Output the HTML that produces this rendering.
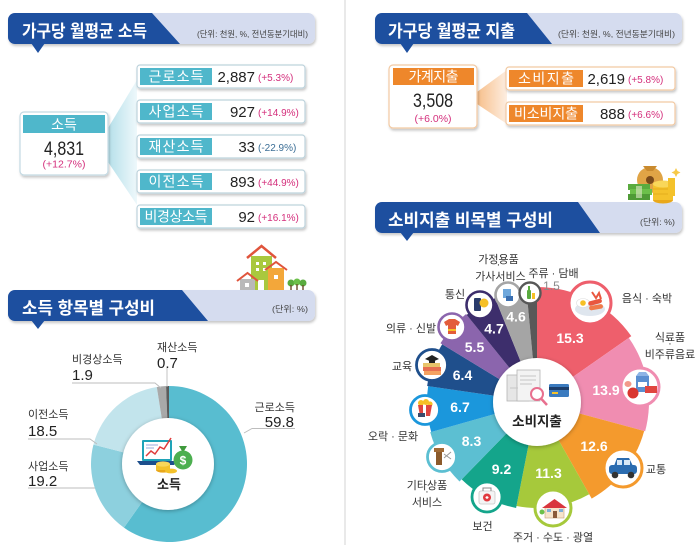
<!DOCTYPE html>
<html><head><meta charset="utf-8"><style>
html,body{margin:0;padding:0;background:#fff;}
svg{display:block;}
text{font-family:"Liberation Sans","Noto Sans CJK KR",sans-serif;}
.t{font-weight:bold;fill:#fff;font-size:17px;}
.sub{font-size:8.5px;fill:#444;}
.lb{font-size:14px;fill:#fff;text-anchor:middle;}
.val{font-size:15px;fill:#222;text-anchor:end;}
.chg{font-size:10px;fill:#d42f7c;}
.dl{font-size:11px;fill:#333;}
.dv{font-size:15px;fill:#222;}
.pn{font-size:14px;fill:#fff;font-weight:bold;text-anchor:middle;}
.pl{font-size:11px;fill:#333;text-anchor:middle;}
</style></head><body>
<svg width="700" height="556" viewBox="0 0 700 556" xmlns="http://www.w3.org/2000/svg">
<defs>
<filter id="sh" x="-10%" y="-20%" width="130%" height="160%"><feDropShadow dx="1" dy="2" stdDeviation="1.3" flood-color="#000" flood-opacity="0.22"/></filter>
<filter id="sh2" x="-30%" y="-30%" width="160%" height="160%"><feDropShadow dx="0" dy="1" stdDeviation="2.2" flood-color="#000" flood-opacity="0.3"/></filter>
<linearGradient id="fanB" x1="0" x2="1" y1="0" y2="0"><stop offset="0" stop-color="#b6e0ea"/><stop offset="1" stop-color="#eef8fb"/></linearGradient>
<linearGradient id="fanO" x1="0" x2="1" y1="0" y2="0"><stop offset="0" stop-color="#f7bf8b"/><stop offset="1" stop-color="#fdeee1"/></linearGradient>
</defs>
<rect width="700" height="556" fill="#fff"/>
<line x1="345" y1="0" x2="345" y2="545" stroke="#e2e2e2" stroke-width="1.5"/>

<!-- Header 1 -->
<rect x="8" y="13" width="307" height="31" rx="7" fill="#d5dcef" filter="url(#sh)"/>
<path d="M15,13 H152 L180,44 H15 A7,7 0 0 1 8,37 V20 A7,7 0 0 1 15,13 Z" fill="#1d4f9f"/>
<path d="M31,43 L45,43 L38,53 Z" fill="#1d4f9f"/>
<text class="t" x="22" y="37" textLength="125" lengthAdjust="spacingAndGlyphs">가구당 월평균 소득</text>
<text class="sub" x="197" y="37" textLength="111" lengthAdjust="spacingAndGlyphs">(단위: 천원, %, 전년동분기대비)</text>

<!-- Header 2 -->
<rect x="375" y="13" width="307" height="31" rx="7" fill="#d5dcef" filter="url(#sh)"/>
<path d="M382,13 H527 L552,44 H382 A7,7 0 0 1 375,37 V20 A7,7 0 0 1 382,13 Z" fill="#1d4f9f"/>
<path d="M400,43 L414,43 L407,53 Z" fill="#1d4f9f"/>
<text class="t" x="388" y="37" textLength="127" lengthAdjust="spacingAndGlyphs">가구당 월평균 지출</text>
<text class="sub" x="558" y="37" textLength="117" lengthAdjust="spacingAndGlyphs">(단위: 천원, %, 전년동분기대비)</text>

<!-- Header 3 -->
<rect x="375" y="202" width="307" height="31" rx="7" fill="#d5dcef" filter="url(#sh)"/>
<path d="M382,202 H578 L600,233 H382 A7,7 0 0 1 375,226 V209 A7,7 0 0 1 382,202 Z" fill="#1d4f9f"/>
<path d="M400,232 L414,232 L407,241 Z" fill="#1d4f9f"/>
<text class="t" x="388" y="226" textLength="165" lengthAdjust="spacingAndGlyphs">소비지출 비목별 구성비</text>
<text class="sub" x="640" y="225" textLength="35" lengthAdjust="spacingAndGlyphs">(단위: %)</text>

<!-- Header 4 -->
<rect x="8" y="290" width="307" height="31" rx="7" fill="#d5dcef" filter="url(#sh)"/>
<path d="M15,290 H182 L208,321 H15 A7,7 0 0 1 8,314 V297 A7,7 0 0 1 15,290 Z" fill="#1d4f9f"/>
<path d="M31,320 L45,320 L38,329 Z" fill="#1d4f9f"/>
<text class="t" x="22" y="314" textLength="133" lengthAdjust="spacingAndGlyphs">소득 항목별 구성비</text>
<text class="sub" x="272" y="312" textLength="36" lengthAdjust="spacingAndGlyphs">(단위: %)</text>

<!-- Income section -->
<polygon points="108,128 137,80 137,205 108,162" fill="url(#fanB)"/>
<rect x="20" y="112" width="88" height="63" rx="4" fill="#fff" stroke="#c3d9e2" stroke-width="1.2" filter="url(#sh)"/>
<rect x="23" y="115" width="82" height="18" fill="#4fb7cb"/>
<text class="lb" x="64" y="129.5">소득</text>
<text x="64" y="155" font-size="19" fill="#222" text-anchor="middle" textLength="40" lengthAdjust="spacingAndGlyphs">4,831</text>
<text x="64" y="167.5" font-size="10.5" fill="#d42f7c" text-anchor="middle">(+12.7%)</text>

<g>
<rect x="137" y="65" width="168" height="23" rx="3" fill="#fff" stroke="#bdd3dc" stroke-width="1.2" filter="url(#sh)"/>
<rect x="140" y="68" width="72" height="17" fill="#4fb7cb"/>
<text class="lb" x="176" y="81.5" textLength="55">근로소득</text>
<text class="val" x="255" y="82">2,887</text><text class="chg" x="258" y="81">(+5.3%)</text>

<rect x="137" y="100" width="168" height="23" rx="3" fill="#fff" stroke="#bdd3dc" stroke-width="1.2" filter="url(#sh)"/>
<rect x="140" y="103" width="72" height="17" fill="#4fb7cb"/>
<text class="lb" x="176" y="116.5" textLength="55">사업소득</text>
<text class="val" x="255" y="117">927</text><text class="chg" x="258" y="116">(+14.9%)</text>

<rect x="137" y="135" width="168" height="23" rx="3" fill="#fff" stroke="#bdd3dc" stroke-width="1.2" filter="url(#sh)"/>
<rect x="140" y="138" width="72" height="17" fill="#4fb7cb"/>
<text class="lb" x="176" y="151.5" textLength="55">재산소득</text>
<text class="val" x="255" y="152">33</text><text class="chg" x="258" y="151" style="fill:#3b6e96">(-22.9%)</text>

<rect x="137" y="170" width="168" height="23" rx="3" fill="#fff" stroke="#bdd3dc" stroke-width="1.2" filter="url(#sh)"/>
<rect x="140" y="173" width="72" height="17" fill="#4fb7cb"/>
<text class="lb" x="176" y="186.5" textLength="55">이전소득</text>
<text class="val" x="255" y="187">893</text><text class="chg" x="258" y="186">(+44.9%)</text>

<rect x="137" y="205" width="168" height="23" rx="3" fill="#fff" stroke="#bdd3dc" stroke-width="1.2" filter="url(#sh)"/>
<rect x="140" y="208" width="72" height="17" fill="#4fb7cb"/>
<text class="lb" x="176" y="221.5" textLength="63">비경상소득</text>
<text class="val" x="255" y="222">92</text><text class="chg" x="258" y="221">(+16.1%)</text>
</g>

<!-- Spending section -->
<polygon points="477,92 507,70 507,124 477,104" fill="url(#fanO)"/>
<rect x="389" y="65" width="88" height="63" rx="4" fill="#fff" stroke="#f2c9a2" stroke-width="1.2" filter="url(#sh)"/>
<rect x="393" y="68" width="81" height="17" fill="#ee872b"/>
<text class="lb" x="433.5" y="81.5" textLength="50">가계지출</text>
<text x="433" y="107" font-size="19" fill="#222" text-anchor="middle" textLength="40" lengthAdjust="spacingAndGlyphs">3,508</text>
<text x="433" y="122" font-size="10.5" fill="#d42f7c" text-anchor="middle">(+6.0%)</text>

<rect x="506" y="67" width="169" height="23" rx="3" fill="#fff" stroke="#f2c9a2" stroke-width="1.2" filter="url(#sh)"/>
<rect x="509" y="70" width="74" height="17" fill="#ee872b"/>
<text class="lb" x="546" y="83.5" textLength="56">소비지출</text>
<text class="val" x="625" y="84">2,619</text><text class="chg" x="628" y="83">(+5.8%)</text>

<rect x="506" y="102" width="169" height="23" rx="3" fill="#fff" stroke="#f2c9a2" stroke-width="1.2" filter="url(#sh)"/>
<rect x="509" y="105" width="74" height="17" fill="#ee872b"/>
<text class="lb" x="546" y="118.5" textLength="64">비소비지출</text>
<text class="val" x="625" y="119">888</text><text class="chg" x="628" y="118">(+6.6%)</text>

<!-- Money icon -->
<g>
<ellipse cx="650" cy="180" rx="13" ry="13" fill="#e0a446"/>
<path d="M643,166 L657,166 L653,171 L647,171 Z" fill="#c98a2e"/>
<circle cx="650" cy="180" r="4" fill="#7a4a1a"/>
<rect x="628" y="184" width="22" height="6" fill="#5aab3f"/>
<rect x="630" y="189" width="22" height="6" fill="#6cc04a"/>
<rect x="628" y="194" width="22" height="6" fill="#4f9b36"/>
<rect x="636" y="186" width="6" height="12" fill="#dfe9c8" opacity="0.6"/>
<ellipse cx="663" cy="200" rx="10" ry="3.5" fill="#e9a81a"/>
<rect x="653" y="184" width="20" height="16" fill="#f4c22b"/>
<ellipse cx="663" cy="184" rx="10" ry="3.5" fill="#f9d75a"/>
<line x1="653" y1="189" x2="673" y2="189" stroke="#e0a818" stroke-width="0.8"/>
<line x1="653" y1="194" x2="673" y2="194" stroke="#e0a818" stroke-width="0.8"/>
<rect x="668" y="178" width="7" height="18" fill="#f4c22b"/>
<path d="M676,168 l1.5,3 3,1.5 -3,1.5 -1.5,3 -1.5,-3 -3,-1.5 3,-1.5z" fill="#f7c948"/>
</g>

<!-- House icon -->
<g>
<rect x="251" y="256" width="21" height="34" fill="#a9c83e"/>
<path d="M247,258 L261.5,246 L276,258" fill="none" stroke="#e0543c" stroke-width="2.5"/>
<rect x="256" y="262" width="3" height="3" fill="#fff"/><rect x="263" y="262" width="3" height="3" fill="#fff"/>
<rect x="256" y="268" width="3" height="3" fill="#fff"/><rect x="263" y="268" width="3" height="3" fill="#fff"/>
<rect x="258" y="280" width="6" height="10" fill="#fff"/>
<rect x="268" y="268" width="16" height="22" fill="#f3a73a"/>
<path d="M265,270 L276,262 L287,270" fill="none" stroke="#e0543c" stroke-width="2"/>
<rect x="274" y="275" width="4" height="4" fill="#fff"/>
<rect x="240" y="279" width="15" height="11" fill="#b9b9b9"/>
<path d="M237,281 L247.5,273 L258,281" fill="none" stroke="#e0543c" stroke-width="2"/>
<rect x="245" y="283" width="4" height="4" fill="#fff"/>
<circle cx="291" cy="283" r="3.5" fill="#5aab3f"/><rect x="290.3" y="285" width="1.4" height="5" fill="#6b4a2a"/>
<circle cx="297" cy="282" r="3.5" fill="#6cc04a"/><rect x="296.3" y="284" width="1.4" height="6" fill="#6b4a2a"/>
<circle cx="303" cy="283" r="3.5" fill="#5aab3f"/><rect x="302.3" y="285" width="1.4" height="5" fill="#6b4a2a"/>
</g>

<!-- Income donut -->
<g>
<path d="M169,464 L169,386 A78,78 0 1 1 123.95,527.67 Z" fill="#58bdd0"/>
<path d="M169,464 L123.95,527.67 A78,78 0 0 1 93.45,444.60 Z" fill="#8dd0de"/>
<path d="M169,464 L93.45,444.60 A78,78 0 0 1 156.80,386.96 Z" fill="#c2e4ec"/>
<path d="M169,464 L156.80,386.96 A78,78 0 0 1 166.06,386.05 Z" fill="#a9a9a9"/>
<path d="M169,464 L166.06,386.05 A78,78 0 0 1 169,386 Z" fill="#5b5b5b"/>
<circle cx="168" cy="464" r="46" fill="#fff" filter="url(#sh2)"/>
<rect x="142" y="440" width="30" height="21" rx="1" fill="#1fa3b8"/>
<rect x="144" y="442" width="26" height="17" fill="#fff"/>
<line x1="146" y1="445" x2="158" y2="445" stroke="#9ad" stroke-width="1"/>
<line x1="146" y1="448" x2="154" y2="448" stroke="#9ad" stroke-width="1"/>
<polyline points="146,456 151,451 155,454 160,447 164,449 171,438" fill="none" stroke="#e03c3c" stroke-width="1.5"/>
<polygon points="137,461 177,461 174,465 140,465" fill="#1d4f8c"/>
<ellipse cx="163" cy="470" rx="7" ry="2.6" fill="#e9a81a"/>
<rect x="156" y="464" width="14" height="6" fill="#f4c22b"/>
<ellipse cx="163" cy="464" rx="7" ry="2.6" fill="#f9d75a"/>
<ellipse cx="171" cy="471" rx="6" ry="2.4" fill="#f4c22b"/>
<path d="M179,446 L187,446 L184,451 L182,451 Z" fill="#3f9a3c"/>
<circle cx="183" cy="460" r="9.5" fill="#4caf50"/>
<text x="183" y="464.5" font-size="12" font-weight="bold" fill="#fff" text-anchor="middle">$</text>
<text x="169" y="489" font-size="13" font-weight="bold" fill="#222" text-anchor="middle">소득</text>
</g>
<g fill="none" stroke="#bdbdbd" stroke-width="0.9">
<polyline points="244,433 252,428.5 295,428.5"/>
<polyline points="28,488 95,488"/>
<polyline points="28,439 90,439 97,444"/>
<polyline points="72,383 155,383 161,388"/>
<polyline points="167,368 167,387"/>
</g>
<text class="dl" x="157" y="351">재산소득</text>
<text class="dv" x="157" y="368">0.7</text>
<text class="dl" x="72" y="363">비경상소득</text>
<text class="dv" x="72" y="380">1.9</text>
<text class="dl" x="28" y="418">이전소득</text>
<text class="dv" x="28" y="436">18.5</text>
<text class="dl" x="28" y="470">사업소득</text>
<text class="dv" x="28" y="486">19.2</text>
<text class="dl" x="295" y="411" text-anchor="end">근로소득</text>
<text class="dv" x="294" y="427" text-anchor="end">59.8</text>

<!-- Spending pie -->
<g>
<path d="M537,402 L537,287 A115,115 0 0 1 631.30,336.17 Z" fill="#ee5f6c"/>
<path d="M537,402 L628.84,337.89 A112,112 0 0 1 645.12,431.21 Z" fill="#f08db1"/>
<path d="M537,402 L644.16,430.95 A111,111 0 0 1 591.69,498.59 Z" fill="#f49a2d"/>
<path d="M537,402 L589.23,494.24 A106,106 0 0 1 516.48,506.00 Z" fill="#a6c93b"/>
<path d="M537,402 L516.09,507.96 A108,108 0 0 1 461.62,479.34 Z" fill="#14a58b"/>
<path d="M537,402 L459.52,481.49 A111,111 0 0 1 430.22,432.30 Z" fill="#5cbfd2"/>
<path d="M537,402 L431.18,432.03 A110,110 0 0 1 428.14,386.16 Z" fill="#1b97dc"/>
<path d="M537,402 L427.15,386.02 A111,111 0 0 1 442.17,344.29 Z" fill="#1f4f8c"/>
<path d="M537,402 L440.46,343.25 A113,113 0 0 1 466.06,314.04 Z" fill="#8b65ad"/>
<path d="M537,402 L466.69,314.82 A112,112 0 0 1 495.11,298.13 Z" fill="#3d2e6c"/>
<path d="M537,402 L495.86,299.99 A110,110 0 0 1 526.65,292.48 Z" fill="#a5a5a5"/>
<path d="M537,402 L526.65,292.48 A110,110 0 0 1 537,292 Z" fill="#585858"/>
</g>
<circle cx="537" cy="402" r="44" fill="#fff" filter="url(#sh2)"/>
<rect x="507" y="375" width="22" height="26" fill="#e6e6e6" stroke="#b5b5b5" stroke-width="0.8"/>
<rect x="517" y="370" width="23" height="31" fill="#f3f3f3" stroke="#b5b5b5" stroke-width="0.8"/>
<line x1="520" y1="376" x2="536" y2="376" stroke="#c5c5c5"/><line x1="520" y1="380" x2="536" y2="380" stroke="#c5c5c5"/>
<line x1="520" y1="384" x2="532" y2="384" stroke="#c5c5c5"/><line x1="510" y1="388" x2="518" y2="388" stroke="#c5c5c5"/>
<rect x="549" y="384" width="20" height="13" rx="1.5" fill="#3b7bbf"/>
<rect x="549" y="387" width="20" height="3" fill="#1d3e6b"/>
<rect x="552" y="392" width="6" height="2" fill="#f4c22b"/>
<circle cx="537" cy="394" r="6" fill="#fff" stroke="#e8708f" stroke-width="2"/>
<line x1="541" y1="398.5" x2="547" y2="405" stroke="#e8708f" stroke-width="2.5"/>
<text x="537" y="426" font-size="13.5" font-weight="bold" fill="#222" text-anchor="middle">소비지출</text>

<text class="pn" x="570" y="343">15.3</text>
<text class="pn" x="606" y="395">13.9</text>
<text class="pn" x="594" y="451">12.6</text>
<text class="pn" x="548.5" y="478">11.3</text>
<text class="pn" x="501.5" y="474">9.2</text>
<text class="pn" x="471.5" y="446">8.3</text>
<text class="pn" x="460" y="412">6.7</text>
<text class="pn" x="462.5" y="380">6.4</text>
<text class="pn" x="474.5" y="352">5.5</text>
<text class="pn" x="494" y="333.5">4.7</text>
<text class="pn" x="516" y="321.5">4.6</text>

<g>
<circle cx="590" cy="303" r="21" fill="#fff" stroke="#ee5f6c" stroke-width="3"/>
<ellipse cx="590" cy="309" rx="15" ry="7" fill="#dfe6ee"/>
<ellipse cx="583" cy="303" rx="6.5" ry="4.5" fill="#fff" stroke="#ddd" stroke-width="0.6"/>
<circle cx="583" cy="303" r="2.8" fill="#f6c026"/>
<rect x="588" y="300" width="14" height="4.5" rx="2.2" fill="#e9573f" transform="rotate(-15 595 302)"/>
<rect x="589" y="305" width="14" height="4.5" rx="2.2" fill="#f07a4a" transform="rotate(-10 596 307)"/>
<path d="M592,292 l4,6 3,-5 2,6" fill="none" stroke="#e9573f" stroke-width="2"/>
</g>
<g>
<circle cx="640" cy="387" r="19" fill="#fff" stroke="#f08db1" stroke-width="3"/>
<rect x="636" y="376" width="13" height="16" fill="#5b8fd1"/>
<polygon points="636,376 649,376 646,372 639,372" fill="#8db4e6"/>
<rect x="638" y="382" width="9" height="5" fill="#fff"/>
<rect x="645" y="386" width="12" height="7" fill="#e0453f"/>
<circle cx="633" cy="393" r="5.5" fill="#d9362f"/>
<ellipse cx="628" cy="384" rx="3.5" ry="3" fill="#f29a8a"/>
</g>
<g>
<circle cx="623" cy="468" r="19" fill="#fff" stroke="#f49a2d" stroke-width="3"/>
<rect x="609" y="465" width="28" height="9" rx="3" fill="#2b6cb0"/>
<path d="M614,466 L617,458 L629,458 L633,466 Z" fill="#2b6cb0"/>
<rect x="617" y="460" width="5" height="5" fill="#d8e8f6"/><rect x="624" y="460" width="6" height="5" fill="#d8e8f6"/>
<circle cx="615" cy="475" r="3.3" fill="#333"/><circle cx="631" cy="475" r="3.3" fill="#333"/>
</g>
<g>
<circle cx="553" cy="508" r="18" fill="#fff" stroke="#a6c93b" stroke-width="3"/>
<rect x="545" y="507" width="19" height="11" fill="#f6e4cb" stroke="#c9a27a" stroke-width="0.6"/>
<polygon points="542,508 554.5,499 567,508" fill="#d9363e"/>
<rect x="553" y="511" width="4" height="7" fill="#8a5a3a"/>
<rect x="547" y="509" width="4" height="3" fill="#7fb0d8"/><rect x="559" y="509" width="4" height="3" fill="#7fb0d8"/>
<circle cx="542" cy="512" r="2.5" fill="#6cc04a"/>
</g>
<g>
<circle cx="487" cy="497" r="15" fill="#fff" stroke="#14a58b" stroke-width="2.8"/>
<rect x="479" y="491" width="16" height="13" rx="2" fill="#f4f4f4" stroke="#c8c8c8" stroke-width="0.8"/>
<path d="M483,491 v-3 h8 v3" fill="none" stroke="#888" stroke-width="1"/>
<circle cx="487" cy="497.5" r="4" fill="#e0393e"/>
<path d="M485.5,497.5 h3 M487,496 v3" stroke="#fff" stroke-width="1.2"/>
</g>
<g>
<circle cx="442" cy="457" r="14.5" fill="#fff" stroke="#5cbfd2" stroke-width="2.8"/>
<rect x="436" y="448" width="6" height="17" fill="#8b5a2b"/>
<rect x="434" y="448" width="10" height="4" fill="#a06a35"/>
<line x1="444" y1="458" x2="451" y2="452" stroke="#999" stroke-width="1"/>
<line x1="444" y1="454" x2="451" y2="459" stroke="#999" stroke-width="1"/>
</g>
<g>
<circle cx="425" cy="410" r="14.5" fill="#fff" stroke="#1b97dc" stroke-width="2.8"/>
<circle cx="421" cy="403" r="3" fill="#f6c026"/><circle cx="426" cy="402" r="3" fill="#f6c026"/><circle cx="430" cy="404" r="2.6" fill="#f6c026"/>
<polygon points="418,405 432,405 430,416 420,416" fill="#e0453f"/>
<rect x="423" y="405" width="3" height="11" fill="#fff"/>
<rect x="418" y="413" width="7" height="4" fill="#3b4a6b"/>
</g>
<g>
<circle cx="432" cy="365" r="15.5" fill="#fff" stroke="#1f4f8c" stroke-width="2.8"/>
<rect x="423" y="367" width="18" height="4" fill="#e76f51"/>
<rect x="424" y="371" width="17" height="4" fill="#f4a261"/>
<rect x="423" y="363" width="17" height="4" fill="#e9c46a"/>
<polygon points="425,359 432,355 439,359 432,362" fill="#222"/>
<rect x="429" y="360" width="6" height="3" fill="#222"/>
</g>
<g>
<circle cx="452" cy="327" r="13.5" fill="#fff" stroke="#8b65ad" stroke-width="2.6"/>
<path d="M444,322 L449,319 L455,319 L460,322 L458,326 L456,325 L456,334 L448,334 L448,325 L446,326 Z" fill="#e35d3b"/>
<rect x="448" y="329" width="8" height="2" fill="#f6c026"/>
</g>
<g>
<circle cx="480" cy="305" r="13.5" fill="#fff" stroke="#3d2e6c" stroke-width="2.6"/>
<rect x="474" y="298" width="7" height="13" rx="1" fill="#2a3b6b"/>
<circle cx="484" cy="303" r="4.5" fill="#f6c026"/>
</g>
<g>
<circle cx="508" cy="295" r="12.5" fill="#fff" stroke="#a5a5a5" stroke-width="2.6"/>
<rect x="503" y="289" width="8" height="9" fill="#6fa8dc"/>
<rect x="506" y="296" width="7" height="5" fill="#3b6fb0"/>
</g>
<g>
<circle cx="530" cy="293" r="10.5" fill="#fff" stroke="#585858" stroke-width="2.4"/>
<rect x="527" y="290" width="4" height="9" rx="1" fill="#5aab3f"/>
<rect x="528" y="286" width="2" height="4" fill="#5aab3f"/>
<rect x="532" y="293" width="3" height="6" fill="#f6c026"/>
</g>

<text class="pl" x="647" y="302">음식 · 숙박</text>
<text class="pl" x="670" y="341">식료품</text>
<text class="pl" x="670" y="347" font-size="8">·</text>
<text class="pl" x="670" y="358">비주류음료</text>
<text class="pl" x="656" y="473">교통</text>
<text class="pl" x="553" y="541">주거 · 수도 · 광열</text>
<text class="pl" x="482.5" y="530">보건</text>
<text class="pl" x="427" y="489">기타상품</text>
<text class="pl" x="427" y="495" font-size="8">·</text>
<text class="pl" x="427" y="506">서비스</text>
<text class="pl" x="393" y="440">오락 · 문화</text>
<text class="pl" x="402" y="370">교육</text>
<text class="pl" x="411" y="332">의류 · 신발</text>
<text class="pl" x="455" y="298">통신</text>
<text class="pl" x="498.5" y="263">가정용품</text>
<text class="pl" x="498.5" y="268" font-size="8">·</text>
<text class="pl" x="500.5" y="280">가사서비스</text>
<text class="pl" x="553.5" y="277">주류 · 담배</text>
<text x="551.5" y="290" font-size="12" fill="#8a8a8a" text-anchor="middle">1.5</text>
</svg>
</body></html>
